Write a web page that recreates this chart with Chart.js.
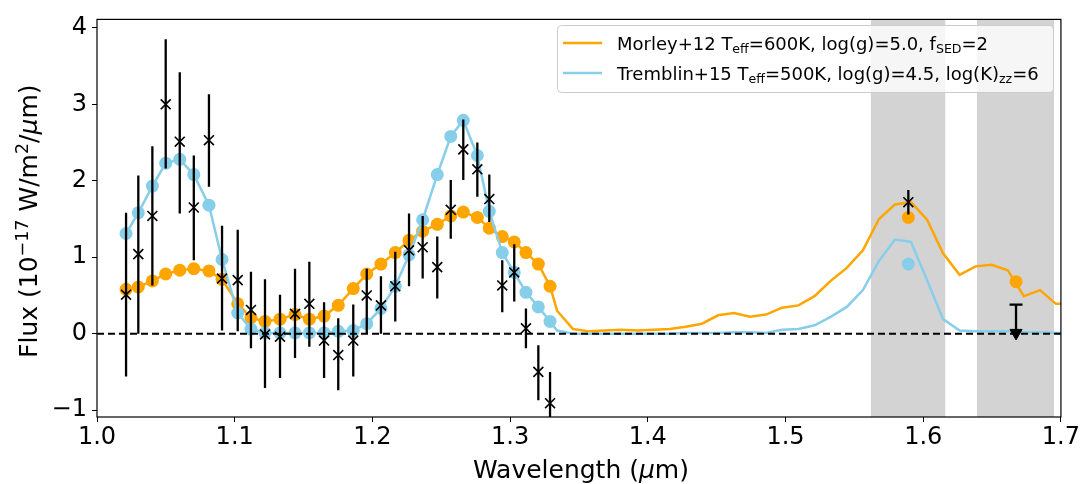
<!DOCTYPE html>
<html>
<head>
<meta charset="utf-8">
<script src="https://cdn.jsdelivr.net/npm/chart.js@4.4.0/dist/chart.umd.min.js"></script>
<style>
  html, body { margin: 0; padding: 0; background: #fff; }
  #wrap { width: 1081px; height: 484px; }
</style>
</head>
<body>
<div id="wrap"><canvas id="spec" width="1081" height="484"></canvas></div>
<script>
// binned spectrum (um) and fluxes, 1e-17 W/m2/um
const waveBin = [1.0211, 1.0300, 1.0402, 1.0499, 1.0601, 1.0703, 1.0813, 1.0908, 1.1022, 1.1118,
  1.1220, 1.1329, 1.1438, 1.1542, 1.1649, 1.1752, 1.1861, 1.1959, 1.2062, 1.2166,
  1.2266, 1.2365, 1.2471, 1.2569, 1.2660, 1.2762, 1.2849, 1.2943, 1.3030, 1.3115,
  1.3205, 1.3290];
const fluxObs = [0.51, 1.04, 1.54, 3.00, 2.51, 1.65, 2.53, 0.72, 0.70, 0.31,
  -0.01, -0.04, 0.26, 0.39, -0.09, -0.28, -0.09, 0.50, 0.37, 0.62,
  1.09, 1.13, 0.87, 1.62, 2.41, 2.15, 1.76, 0.63, 0.80, 0.07,
  -0.50, -0.91];
const errTop = [1.58, 2.07, 2.45, 3.85, 3.42, 2.33, 3.13, 1.41, 1.36, 0.81,
  0.71, 0.51, 0.85, 0.94, 0.41, 0.20, 0.38, 0.85, 0.75, 1.07,
  1.57, 1.54, 1.27, 2.01, 2.80, 2.50, 2.08, 0.96, 1.17, 0.33,
  -0.15, -0.50];
const errBottom = [-0.56, 0.00, 0.63, 2.16, 1.57, 0.96, 1.92, 0.04, 0.03, -0.19,
  -0.71, -0.58, -0.32, -0.17, -0.58, -0.74, -0.56, 0.00, 0.00, 0.16,
  0.62, 0.72, 0.46, 1.24, 2.01, 1.79, 1.46, 0.28, 0.42, -0.19,
  -0.87, -1.35];
const morleyBin = [0.58, 0.61, 0.69, 0.78, 0.83, 0.85, 0.82, 0.71, 0.39, 0.21,
  0.16, 0.19, 0.25, 0.19, 0.23, 0.37, 0.59, 0.78, 0.91, 1.06,
  1.22, 1.34, 1.43, 1.54, 1.59, 1.52, 1.38, 1.27, 1.20, 1.06,
  0.91, 0.62];
const tremblinBin = [1.31, 1.58, 1.93, 2.23, 2.28, 2.08, 1.68, 0.97, 0.27, 0.06,
  0.01, 0.01, 0.01, 0.01, 0.01, 0.03, 0.04, 0.13, 0.33, 0.62,
  1.03, 1.49, 2.08, 2.58, 2.79, 2.33, 1.60, 1.06, 0.80, 0.54,
  0.35, 0.16];

// model curves beyond the binned range
const waveModel = [1.3341, 1.3457, 1.3573, 1.3689, 1.3805, 1.3925, 1.4042, 1.4159, 1.4276, 1.4393,
  1.4510, 1.4626, 1.4742, 1.4858, 1.4975, 1.5094, 1.5211, 1.5328, 1.5445, 1.5562,
  1.5679, 1.5795, 1.5911, 1.6028, 1.6144, 1.6264, 1.6380, 1.6497, 1.6614, 1.6731,
  1.6848, 1.6964, 1.7080];
const morleyModel = [0.30, 0.06, 0.03, 0.04, 0.05, 0.04, 0.05, 0.06, 0.09, 0.13,
  0.24, 0.27, 0.22, 0.25, 0.34, 0.37, 0.49, 0.69, 0.86, 1.09,
  1.50, 1.69, 1.72, 1.49, 1.05, 0.77, 0.88, 0.90, 0.83, 0.49,
  0.57, 0.39, 0.39];
const tremblinModel = [0.04, 0.00, 0.00, 0.00, 0.00, 0.00, 0.00, 0.00, 0.01, 0.01,
  0.01, 0.02, 0.02, 0.01, 0.05, 0.06, 0.11, 0.22, 0.35, 0.57,
  0.95, 1.23, 1.20, 0.70, 0.19, 0.04, 0.03, 0.03, 0.03, 0.02,
  0.02, 0.01, 0.01];

// photometry: H band point and the upper limit
const photWave = [1.5892];
const photObs = [1.72];
const photErr = [0.16];
const photMorley = [1.52];
const photTremblin = [0.91];
const limWave = [1.6674];
const limTop = [0.38];
const limBase = [0.01];
const limMorley = [0.68];

// shaded filter windows
const bandStart = [1.562, 1.639];
const bandEnd = [1.616, 1.695];

const xTicks = [1.0, 1.1, 1.2, 1.3, 1.4, 1.5, 1.6, 1.7];
const yTicks = [-1, 0, 1, 2, 3, 4];

const ORANGE = '#ffa500';
const SKY = '#87ceeb';
const FONT = '"DejaVu Sans", sans-serif';

const pts = (xs, ys) => xs.map((x, i) => ({ x: x, y: ys[i] }));

// draw text with sub/superscripts, y is the baseline
function drawRich(ctx, segs, x, y, size, align) {
  const fontOf = s => (s.it ? 'italic ' : '') + (s.s ? size * 0.7 : size) + 'px ' + FONT;
  let w = 0;
  const ws = segs.map(s => { ctx.font = fontOf(s); const m = ctx.measureText(s.t).width; w += m; return m; });
  let cx = align === 'center' ? x - w / 2 : x;
  ctx.textAlign = 'left';
  ctx.textBaseline = 'alphabetic';
  segs.forEach((s, i) => {
    ctx.font = fontOf(s);
    const dy = s.s === 'sup' ? -size * 0.36 : s.s === 'sub' ? size * 0.17 : 0;
    ctx.fillText(s.t, cx, y + dy);
    cx += ws[i];
  });
}

const extras = {
  id: 'extras',
  beforeDatasetsDraw(chart) {
    const { ctx, chartArea: a, scales: { x } } = chart;
    ctx.save();
    ctx.fillStyle = '#d3d3d3';
    bandStart.forEach((b, i) => {
      const x0 = x.getPixelForValue(b), x1 = x.getPixelForValue(bandEnd[i]);
      ctx.fillRect(x0, a.top, x1 - x0, a.bottom - a.top);
    });
    ctx.restore();
  },
  afterDatasetsDraw(chart) {
    const { ctx, chartArea: a, scales: { x, y } } = chart;
    ctx.save();
    ctx.beginPath();
    ctx.rect(a.left, a.top, a.right - a.left, a.bottom - a.top);
    ctx.clip();
    ctx.strokeStyle = '#000';
    ctx.lineWidth = 2.3;
    ctx.beginPath();
    waveBin.forEach((w, i) => {
      const px = x.getPixelForValue(w);
      ctx.moveTo(px, y.getPixelForValue(errBottom[i]));
      ctx.lineTo(px, y.getPixelForValue(errTop[i]));
    });
    photWave.forEach((w, i) => {
      const px = x.getPixelForValue(w);
      ctx.moveTo(px, y.getPixelForValue(photObs[i] - photErr[i]));
      ctx.lineTo(px, y.getPixelForValue(photObs[i] + photErr[i]));
    });
    limWave.forEach((w, i) => {
      const px = x.getPixelForValue(w);
      const top = y.getPixelForValue(limTop[i]);
      ctx.moveTo(px, y.getPixelForValue(limBase[i]));
      ctx.lineTo(px, top);
      ctx.moveTo(px - 6.5, top);
      ctx.lineTo(px + 6.5, top);
    });
    ctx.stroke();
    ctx.restore();

    // axes frame
    ctx.save();
    ctx.strokeStyle = '#000';
    ctx.lineWidth = 1.2;
    ctx.strokeRect(a.left, a.top, a.right - a.left, a.bottom - a.top);
    ctx.restore();
  },
  afterDraw(chart) {
    const { ctx, chartArea: a } = chart;
    ctx.save();
    ctx.fillStyle = '#000';
    // x title
    drawRich(ctx, [{ t: 'Wavelength (' }, { t: '\u03bc', it: true }, { t: 'm)' }],
      (a.left + a.right) / 2 + 2, 478, 25, 'center');
    // y title
    ctx.save();
    ctx.translate(37, (a.top + a.bottom) / 2 + 3);
    ctx.rotate(-Math.PI / 2);
    drawRich(ctx, [{ t: 'Flux (10' }, { t: '\u221217', s: 'sup' }, { t: ' W/m' }, { t: '2', s: 'sup' },
      { t: '/' }, { t: '\u03bc', it: true }, { t: 'm)' }], 0, 0, 25, 'center');
    ctx.restore();

    // legend
    const bx = 557, by = 25, bw = 496, bh = 67;
    ctx.beginPath();
    ctx.roundRect(bx + 0.5, by + 0.5, bw, bh, 4);
    ctx.fillStyle = 'rgba(255,255,255,0.8)';
    ctx.fill();
    ctx.strokeStyle = '#cccccc';
    ctx.lineWidth = 1;
    ctx.stroke();
    const rows = [
      { c: ORANGE, y: 43, segs: [{ t: 'Morley+12 T' }, { t: 'eff', s: 'sub' }, { t: '=600K, log(g)=5.0, f' },
        { t: 'SED', s: 'sub' }, { t: '=2' }] },
      { c: SKY, y: 73, segs: [{ t: 'Tremblin+15 T' }, { t: 'eff', s: 'sub' }, { t: '=500K, log(g)=4.5, log(K)' },
        { t: 'zz', s: 'sub' }, { t: '=6' }] }
    ];
    rows.forEach(r => {
      ctx.strokeStyle = r.c;
      ctx.lineWidth = 2.5;
      ctx.beginPath();
      ctx.moveTo(563, r.y);
      ctx.lineTo(602, r.y);
      ctx.stroke();
      ctx.fillStyle = '#000';
      drawRich(ctx, r.segs, 617, r.y + 6.5, 18, 'left');
    });
    ctx.restore();
  }
};

const tickFont = { family: FONT, size: 24 };

new Chart(document.getElementById('spec'), {
  type: 'scatter',
  data: {
    datasets: [
      {
        label: 'data',
        data: pts(waveBin.concat(photWave), fluxObs.concat(photObs)),
        pointStyle: 'crossRot', pointRadius: 7, borderColor: '#000', borderWidth: 1.6,
        backgroundColor: '#000', showLine: false
      },
      {
        label: 'upper limit',
        data: pts(limWave, limBase),
        pointStyle: 'triangle', rotation: 180, pointRadius: 7,
        backgroundColor: '#000', borderColor: '#000', borderWidth: 1, showLine: false
      },
      {
        label: 'zero',
        data: [{ x: 1.0, y: 0 }, { x: 1.7, y: 0 }],
        showLine: true, borderColor: '#000', borderWidth: 2, borderDash: [7, 4], pointRadius: 0
      },
      {
        label: 'Tremblin phot',
        data: pts(photWave, photTremblin),
        pointRadius: 6.5, backgroundColor: SKY, borderWidth: 0, showLine: false
      },
      {
        label: 'Morley phot',
        data: pts(photWave.concat(limWave), photMorley.concat(limMorley)),
        pointRadius: 6.5, backgroundColor: ORANGE, borderWidth: 0, showLine: false
      },
      {
        label: 'Tremblin+15',
        data: pts(waveBin.concat(waveModel), tremblinBin.concat(tremblinModel)),
        showLine: true, borderColor: SKY, borderWidth: 2.5, backgroundColor: SKY,
        pointRadius: c => (c.dataIndex < waveBin.length ? 6.5 : 0), pointBorderWidth: 0
      },
      {
        label: 'Morley+12',
        data: pts(waveBin.concat(waveModel), morleyBin.concat(morleyModel)),
        showLine: true, borderColor: ORANGE, borderWidth: 2.5, backgroundColor: ORANGE,
        pointRadius: c => (c.dataIndex < waveBin.length ? 6.5 : 0), pointBorderWidth: 0
      }
    ]
  },
  options: {
    responsive: false,
    devicePixelRatio: 1,
    animation: false,
    layout: { padding: { top: 15, right: 20, left: 0, bottom: 0 } },
    plugins: { legend: { display: false }, tooltip: { enabled: false } },
    scales: {
      x: {
        type: 'linear', min: 1.0, max: 1.7,
        afterBuildTicks: s => { s.ticks = xTicks.map(v => ({ value: v })); },
        afterFit: s => { s.height = 67; },
        ticks: { callback: v => v.toFixed(1), font: tickFont, color: '#000', padding: 1, maxRotation: 0, autoSkip: false },
        grid: { drawOnChartArea: false, drawTicks: true, tickLength: 5, color: '#000', lineWidth: 1 },
        border: { display: false }
      },
      y: {
        type: 'linear', min: -1.09, max: 4.11,
        afterBuildTicks: s => { s.ticks = yTicks.map(v => ({ value: v })); },
        afterFit: s => { s.width = 97; },
        ticks: { callback: v => (v < 0 ? '\u2212' + Math.abs(v) : String(v)), font: tickFont, color: '#000', padding: 5 },
        grid: { drawOnChartArea: false, drawTicks: true, tickLength: 5, color: '#000', lineWidth: 1 },
        border: { display: false }
      }
    }
  },
  plugins: [extras]
});
</script>
</body>
</html>
